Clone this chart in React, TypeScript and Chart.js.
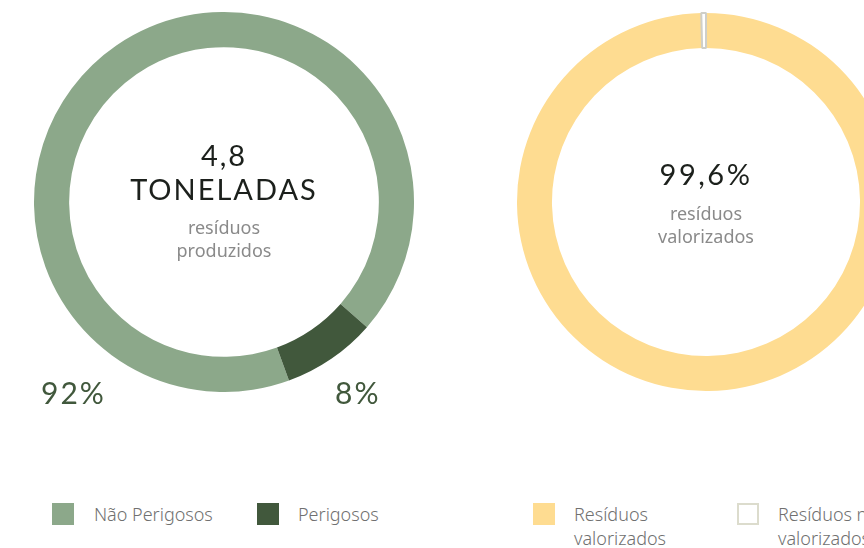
import React, { useEffect, useRef } from "react";
import { Chart, registerables } from "chart.js";

Chart.register(...registerables);

const wasteLabels = ["Não Perigosos", "Perigosos"];
const wasteValues = [92, 8];
const wasteColors = ["#8ca88a", "#41583c"];

const valLabels = ["Resíduos valorizados", "Resíduos não valorizados"];
const valValues = [99.6, 0.4];
const valColors = ["#fedc91", "#ffffff"];

const HEAD_FONT = "Lato, 'Noto Sans', sans-serif";
const SUB_FONT = "'Noto Sans', 'Open Sans', sans-serif";

function Doughnut({ values, labels, colors, borderColors, borderWidths, rotation, left }: any) {
  const ref = useRef<HTMLCanvasElement>(null);
  useEffect(() => {
    const chart = new Chart(ref.current!, {
      type: "doughnut",
      data: {
        labels,
        datasets: [
          {
            data: values,
            backgroundColor: colors,
            borderColor: borderColors,
            borderWidth: borderWidths,
            hoverBorderWidth: borderWidths,
          },
        ],
      },
      options: {
        responsive: false,
        animation: false,
        cutout: "81.5%",
        rotation,
        layout: { padding: 0 },
        plugins: { legend: { display: false }, tooltip: { enabled: false } },
      },
    });
    return () => chart.destroy();
  }, []);
  return (
    <canvas
      ref={ref}
      width={380}
      height={380}
      style={{ position: "absolute", left, top: 12, width: 380, height: 380 }}
    />
  );
}

const abs = (s: any) => ({ position: "absolute" as const, ...s });

export default function App() {
  return (
    <div style={{ position: "fixed", left: 0, top: 0, width: 864, height: 548, overflow: "hidden", background: "#fff" }}>
      <Doughnut
        values={wasteValues}
        labels={wasteLabels}
        colors={wasteColors}
        borderColors={wasteColors}
        borderWidths={[0, 0]}
        rotation={160}
        left={34}
      />
      <Doughnut
        values={valValues}
        labels={valLabels}
        colors={valColors}
        borderColors={["#fedc91", "#cfcfc8"]}
        borderWidths={[0, 2]}
        rotation={0}
        left={516}
      />
      {/* left center text */}
      <div style={abs({ left: 74, width: 300, top: 138, textAlign: "center", fontFamily: HEAD_FONT, color: "#1c201c", fontSize: 29, lineHeight: "34px", letterSpacing: "2px" })}>
        4,8
        <br />
        TONELADAS
      </div>
      <div style={abs({ left: 74, width: 300, top: 216, textAlign: "center", fontFamily: SUB_FONT, fontWeight: 400, color: "#8a8a8a", fontSize: 18, lineHeight: "23px" })}>
        resíduos
        <br />
        produzidos
      </div>
      {/* right center text */}
      <div style={abs({ left: 556, width: 300, top: 157, textAlign: "center", fontFamily: HEAD_FONT, color: "#1c201c", fontSize: 29, lineHeight: "34px", letterSpacing: "2.5px" })}>
        99,6%
      </div>
      <div style={abs({ left: 556, width: 300, top: 202, textAlign: "center", fontFamily: SUB_FONT, fontWeight: 400, color: "#8a8a8a", fontSize: 18, lineHeight: "23px" })}>
        resíduos
        <br />
        valorizados
      </div>
      {/* percentage labels */}
      <div style={abs({ left: 41, top: 374, fontFamily: HEAD_FONT, color: "#41583c", fontSize: 30, lineHeight: "36px", letterSpacing: "2px" })}>
        {wasteValues[0]}%
      </div>
      <div style={abs({ left: 335, top: 374, fontFamily: HEAD_FONT, color: "#41583c", fontSize: 30, lineHeight: "36px", letterSpacing: "2px" })}>
        {wasteValues[1]}%
      </div>
      {/* legends */}
      <div style={abs({ left: 52, top: 503, width: 22, height: 22, background: wasteColors[0] })} />
      <div style={abs({ left: 94, top: 502, fontFamily: SUB_FONT, fontWeight: 300, color: "#707070", fontSize: 18, lineHeight: "24px" })}>
        {wasteLabels[0]}
      </div>
      <div style={abs({ left: 257, top: 503, width: 22, height: 22, background: wasteColors[1] })} />
      <div style={abs({ left: 298, top: 502, fontFamily: SUB_FONT, fontWeight: 300, color: "#707070", fontSize: 18, lineHeight: "24px" })}>
        {wasteLabels[1]}
      </div>
      <div style={abs({ left: 533, top: 503, width: 22, height: 22, background: valColors[0] })} />
      <div style={abs({ left: 574, top: 502, width: 140, fontFamily: SUB_FONT, fontWeight: 300, color: "#707070", fontSize: 18, lineHeight: "24px" })}>
        Resíduos
        <br />
        valorizados
      </div>
      <div style={abs({ left: 737, top: 503, width: 18, height: 18, background: "#fff", border: "2px solid #dcdccd" })} />
      <div style={abs({ left: 778, top: 502, width: 140, whiteSpace: "nowrap", fontFamily: SUB_FONT, fontWeight: 300, color: "#707070", fontSize: 18, lineHeight: "24px" })}>
        Resíduos não
        <br />
        valorizados
      </div>
    </div>
  );
}
